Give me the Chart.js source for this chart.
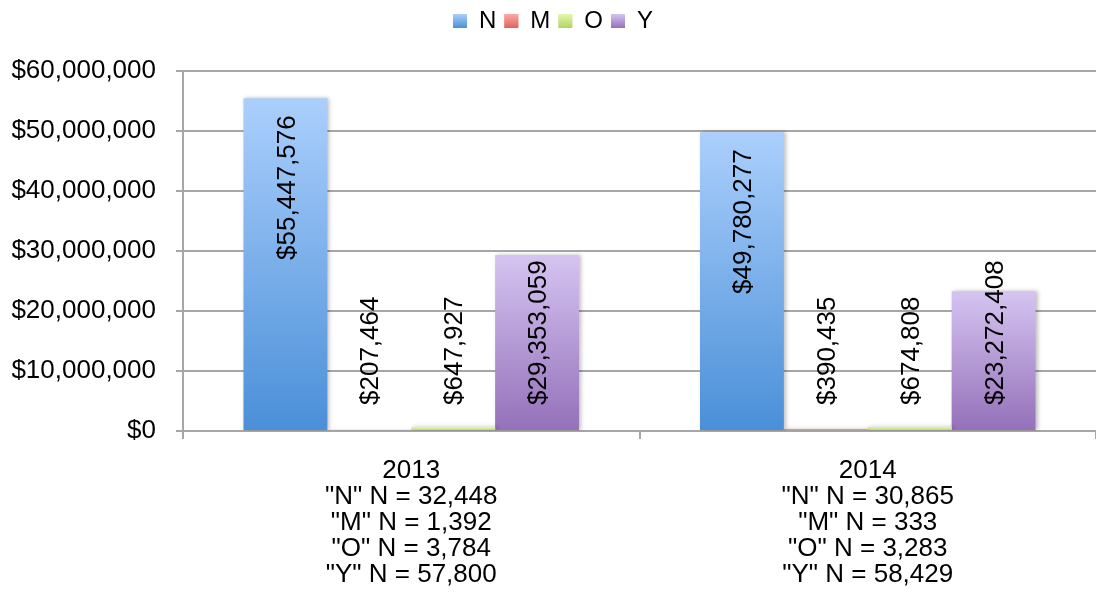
<!DOCTYPE html>
<html>
<head>
<meta charset="utf-8">
<script src="https://cdn.jsdelivr.net/npm/chart.js@4/dist/chart.umd.min.js"></script>
<style>
  html, body { margin: 0; padding: 0; background: #fff; }
  #wrap { width: 1096px; height: 611px; }
</style>
</head>
<body>
<div id="wrap"><canvas id="chart"></canvas></div>
<script>
// data
var categories = [
    ["2013", '"N" N = 32,448', '"M" N = 1,392', '"O" N = 3,784', '"Y" N = 57,800'],
    ["2014", '"N" N = 30,865', '"M" N = 333', '"O" N = 3,283', '"Y" N = 58,429']
];
var seriesNames = ["N", "M", "O", "Y"];
var valuesN = [55447576, 49780277];
var valuesM = [207464, 390435];
var valuesO = [647927, 674808];
var valuesY = [29353059, 23272408];
var yTicksMax = 60000000;
var yTicksStep = 10000000;

var FONT = "'Liberation Sans', Arial, sans-serif";

//top / bottom colour of each bar gradient
var palette = {
    N: ["#abcffc", "#4a8fd8"],
    M: ["#fbaaa6", "#e0625d"],
    O: ["#e1f8aa", "#b3d267"],
    Y: ["#d5c4f1", "#9470b9"]
};

function money(v) {
    return "$" + Math.round(v).toLocaleString("en-US");
}

function gradientFill(name) {
    var cols = palette[name];
    return function (ctx) {
        var chart = ctx.chart;
        if (!chart.chartArea || ctx.type !== "data") return cols[1];
        var y = chart.scales.y;
        var top = y.getPixelForValue(ctx.raw);
        var base = y.getPixelForValue(0);
        if (base - top < 2) return cols[0];
        var g = chart.ctx.createLinearGradient(0, top, 0, base);
        g.addColorStop(0, cols[0]);
        g.addColorStop(1, cols[1]);
        return g;
    };
}

// soft shadow behind the bars, then the rotated value labels
// N is anchored at the bar end, the rest at the base
var barLabels = {
    id: "barLabels",
    afterInit: function (chart) {
        // leave more room under the legend
        var legend = chart.legend;
        var fit = legend.fit;
        legend.fit = function () {
            fit.call(this);
            this.height += 28;
        };
    },
    beforeDatasetsDraw: function (chart) {
        var c = chart.ctx;
        c.save();
        c.shadowColor = "rgba(0,0,0,0.25)";
        c.shadowBlur = 4;
        c.shadowOffsetX = 2;
        c.shadowOffsetY = 0;
    },
    afterDatasetsDraw: function (chart) {
        var c = chart.ctx;
        c.restore();
        c.save();
        c.font = "26px " + FONT;
        c.fillStyle = "#000";
        c.textBaseline = "middle";
        chart.data.datasets.forEach(function (ds, i) {
            var meta = chart.getDatasetMeta(i);
            meta.data.forEach(function (bar, j) {
                var txt = money(ds.data[j]);
                c.save();
                if (ds.labelAnchor === "end") {
                    c.translate(bar.x, bar.y + 17);
                    c.rotate(-Math.PI / 2);
                    c.textAlign = "right";
                } else {
                    c.translate(bar.x, bar.base - 25);
                    c.rotate(-Math.PI / 2);
                    c.textAlign = "left";
                }
                c.fillText(txt, 0, 2);
                c.restore();
            });
        });
        c.restore();
    },
    // repaint legend boxes with the same gradients
    afterDraw: function (chart) {
        var c = chart.ctx;
        var boxes = chart.legend.legendHitBoxes;
        var bh = chart.legend.options.labels.boxHeight;
        boxes.forEach(function (hb, i) {
            var cols = palette[seriesNames[i]];
            var top = hb.top + (hb.height - bh) / 2;
            var g = c.createLinearGradient(0, top, 0, top + bh);
            g.addColorStop(0, cols[0]);
            g.addColorStop(1, cols[1]);
            c.fillStyle = g;
            c.fillRect(hb.left, top, chart.legend.options.labels.boxWidth, bh);
        });
    }
};

var seriesValues = [valuesN, valuesM, valuesO, valuesY];
var datasets = seriesNames.map(function (name, i) {
    return {
        label: name,
        data: seriesValues[i],
        backgroundColor: gradientFill(name),
        borderWidth: 0,
        labelAnchor: name === "N" ? "end" : "base"
    };
});

new Chart(document.getElementById("chart"), {
    type: "bar",
    data: { labels: categories, datasets: datasets },
    plugins: [barLabels],
    options: {
        responsive: true,
        maintainAspectRatio: false,
        animation: false,
        layout: { padding: { top: 1, right: 0, bottom: 4, left: 10 } },
        datasets: {
            bar: { categoryPercentage: 0.735, barPercentage: 1.0 }
        },
        plugins: {
            legend: {
                position: "top",
                labels: {
                    font: { family: FONT, size: 24 },
                    color: "#000",
                    boxWidth: 14,
                    boxHeight: 14,
                    padding: 8
                }
            },
            tooltip: { enabled: false }
        },
        scales: {
            x: {
                grid: {
                    display: true,
                    drawOnChartArea: false,
                    drawTicks: true,
                    tickLength: 8,
                    color: "#a6a6a6",
                    lineWidth: 2
                },
                border: { color: "#a6a6a6", width: 2 },
                ticks: {
                    font: { family: FONT, size: 26, lineHeight: 1.0 },
                    color: "#000",
                    padding: 19,
                    maxRotation: 0
                }
            },
            y: {
                min: 0,
                max: yTicksMax,
                afterFit: function (scale) { scale.width = 173; },
                grid: {
                    color: "#a6a6a6",
                    lineWidth: 2,
                    drawTicks: true,
                    tickLength: 7
                },
                border: { color: "#a6a6a6", width: 2 },
                ticks: {
                    stepSize: yTicksStep,
                    font: { family: FONT, size: 26 },
                    color: "#000",
                    padding: 20,
                    callback: function (v) { return money(v); }
                }
            }
        }
    }
});
</script>
</body>
</html>
